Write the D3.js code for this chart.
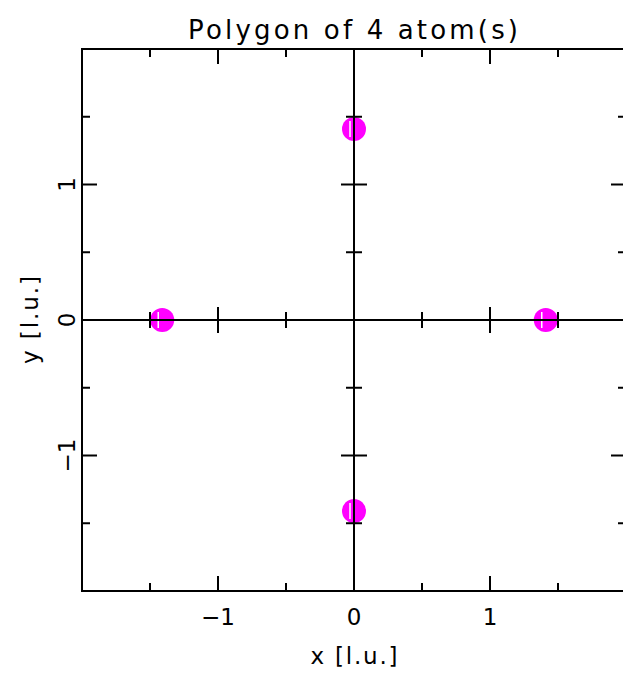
<!DOCTYPE html>
<html lang="en">
<head>
    <meta charset="UTF-8">
    <title>Polygon of 4 atom(s)</title>
    <script src="https://d3js.org/d3.v7.min.js"></script>
    <style>
        body {
            margin: 0;
            background: white;
        }
        text {
            font-family: "DejaVu Sans", sans-serif;
            fill: black;
        }
    </style>
</head>
<body>
    <svg id="chart" width="623" height="673"></svg>
    <script>
        // Atom positions
        const atomX = [1.41, 0, -1.41, 0];
        const atomY = [0, 1.41, 0, -1.41];

        const majorTicks = [-1, 0, 1];
        const minorTicks = [-1.5, -0.5, 0.5, 1.5];
        const tickLabels = ["\u22121", "0", "1"];

        const svg = d3.select("#chart");

        const x = d3.scaleLinear().domain([-2, 2]).range([82, 626]);
        const y = d3.scaleLinear().domain([-2, 2]).range([591, 49]);

        // Atoms (drawn under the axes)
        const atoms = svg.append("g");
        atomX.forEach((v, i) => {
            atoms.append("circle")
                .attr("cx", x(v))
                .attr("cy", y(atomY[i]))
                .attr("r", 12)
                .attr("fill", "#ff00ff");
            atoms.append("line")
                .attr("x1", x(v) - 4).attr("x2", x(v) - 4)
                .attr("y1", y(atomY[i]) - 8).attr("y2", y(atomY[i]) + 8)
                .attr("stroke", "white")
                .attr("stroke-width", 1.5);
        });

        // Frame
        svg.append("rect")
            .attr("x", x(-2)).attr("y", y(2))
            .attr("width", x(2) - x(-2))
            .attr("height", y(-2) - y(2))
            .attr("fill", "none")
            .attr("stroke", "black")
            .attr("stroke-width", 2);

        // Axes through the origin
        svg.append("line")
            .attr("x1", x(-2)).attr("x2", x(2))
            .attr("y1", y(0)).attr("y2", y(0))
            .attr("stroke", "black").attr("stroke-width", 2);
        svg.append("line")
            .attr("x1", x(0)).attr("x2", x(0))
            .attr("y1", y(2)).attr("y2", y(-2))
            .attr("stroke", "black").attr("stroke-width", 2);

        const ticks = svg.append("g").attr("stroke", "black").attr("stroke-width", 2);
        function drawTicks(vals, len, cross) {
            vals.forEach(v => {
                // bottom and top frame
                ticks.append("line").attr("x1", x(v)).attr("x2", x(v)).attr("y1", y(-2)).attr("y2", y(-2) - len);
                ticks.append("line").attr("x1", x(v)).attr("x2", x(v)).attr("y1", y(2)).attr("y2", y(2) + len);
                // left and right frame
                ticks.append("line").attr("y1", y(v)).attr("y2", y(v)).attr("x1", x(-2)).attr("x2", x(-2) + len);
                ticks.append("line").attr("y1", y(v)).attr("y2", y(v)).attr("x1", x(2)).attr("x2", x(2) - len);
                if (v !== 0) {
                    // ticks across the origin axes
                    ticks.append("line").attr("x1", x(v)).attr("x2", x(v)).attr("y1", y(0) - cross).attr("y2", y(0) + cross);
                    ticks.append("line").attr("y1", y(v)).attr("y2", y(v)).attr("x1", x(0) - cross).attr("x2", x(0) + cross);
                }
            });
        }
        drawTicks(majorTicks, 15, 13);
        drawTicks(minorTicks, 8, 8);

        // Tick labels
        svg.selectAll(".xlab")
            .data(majorTicks)
            .enter()
            .append("text")
            .attr("x", d => x(d))
            .attr("y", 625)
            .attr("font-size", 23)
            .attr("text-anchor", "middle")
            .text((d, i) => tickLabels[i]);

        svg.selectAll(".ylab")
            .data(majorTicks)
            .enter()
            .append("text")
            .attr("transform", d => `translate(75,${y(d)}) rotate(-90)`)
            .attr("font-size", 23)
            .attr("text-anchor", "middle")
            .text((d, i) => tickLabels[i]);

        // Titles
        svg.append("text")
            .attr("x", 353).attr("y", 39)
            .attr("font-size", 26)
            .attr("text-anchor", "middle")
            .attr("textLength", 330)
            .attr("lengthAdjust", "spacing")
            .text("Polygon of 4 atom(s)");

        svg.append("text")
            .attr("x", 354).attr("y", 664)
            .attr("font-size", 23)
            .attr("text-anchor", "middle")
            .attr("textLength", 87)
            .attr("lengthAdjust", "spacing")
            .text("x [l.u.]");

        svg.append("text")
            .attr("transform", `translate(38,${y(0)}) rotate(-90)`)
            .attr("font-size", 23)
            .attr("text-anchor", "middle")
            .attr("textLength", 88)
            .attr("lengthAdjust", "spacing")
            .text("y [l.u.]");
    </script>
</body>
</html>
